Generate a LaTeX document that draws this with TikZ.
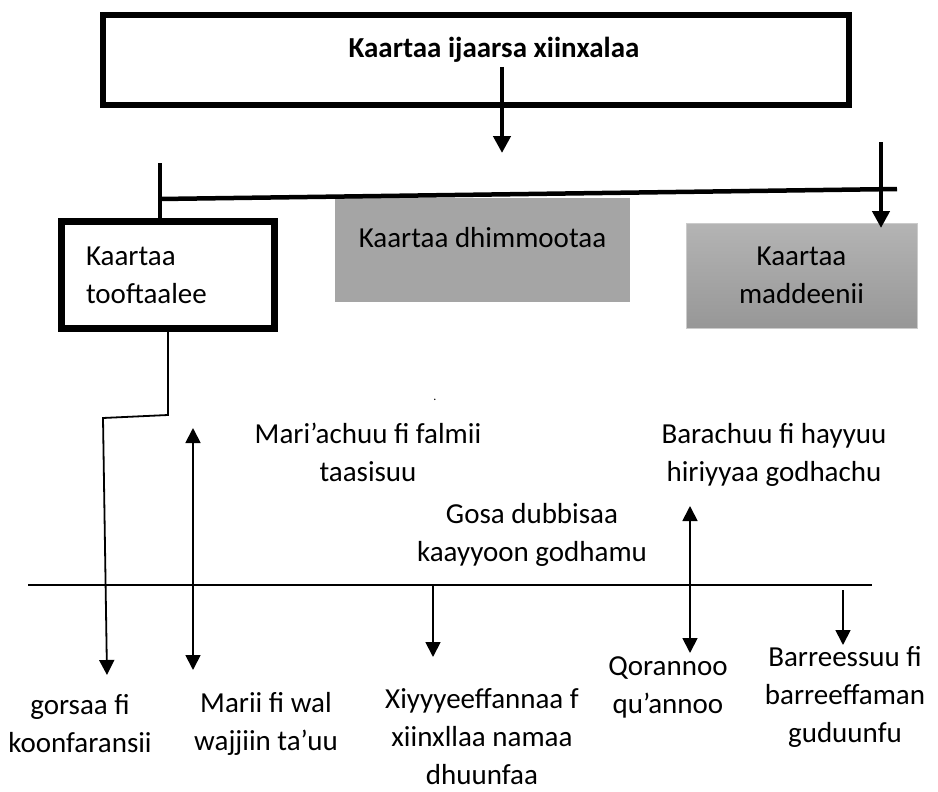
\documentclass[tikz,border=0pt]{standalone}
\usepackage{fontspec}
\setmainfont{Carlito}
\usetikzlibrary{arrows.meta,positioning}

\definecolor{boxgrey}{HTML}{A5A5A5}
\definecolor{shadetop}{HTML}{B4B4B4}
\definecolor{shadebot}{HTML}{979797}

\tikzset{
  txt/.style={font=\fontsize{29}{38}\selectfont, align=center, inner sep=0pt},
  bigarrow/.style={line width=4.5pt, -{Triangle[width=17pt,length=17pt]}},
  smallarrow/.style={line width=1.8pt, -{Triangle[width=15pt,length=15pt]}},
  twoway/.style={line width=1.8pt, {Triangle[width=15pt,length=15pt]}-{Triangle[width=15pt,length=15pt]}},
  bar/.style={line width=4.5pt}
}

\begin{document}
\begin{tikzpicture}[x=1pt,y=-1pt]
\useasboundingbox (0,0) rectangle (938,792);

\node[draw, line width=6pt, minimum width=746pt, minimum height=90pt, inner sep=0pt] (map) at (476,60) {};
\node[txt, font=\bfseries\fontsize{29}{38}\selectfont] (title) at (494,50) {Kaartaa ijaarsa xiinxalaa};

\node[draw, line width=7pt, minimum width=213pt, minimum height=107pt, txt, align=left, text width=164pt] (tof) at (168,275) {Kaartaa\\tooftaalee};
\node[fill=boxgrey, minimum width=295pt, minimum height=104pt, txt, text height=19pt, text depth=25pt] (dhim) at (482.5,250) {Kaartaa dhimmootaa};
\node[top color=shadetop, bottom color=shadebot, draw=shadetop!70!white, line width=0.6pt, minimum width=231pt, minimum height=105pt, txt] (madd) at (801.5,275.5) {Kaartaa\\maddeenii};

\node[txt] (falmii) at (368,452) {Mari’achuu fi falmii\\taasisuu};
\node[txt, font=\fontsize{12}{12}\selectfont] (dot) at (435,400) {.};
\node[txt] (hayyuu) at (774,455) {Barachuu fi hayyuu\\hiriyyaa godhachu};
\node[txt] (gosa) at (532,535) {Gosa dubbisaa\\kaayyoon godhamu};

\node[txt] (gorsaa) at (80,724) {gorsaa fi\\koonfaransii};
\node[txt] (marii) at (266,724) {Marii fi wal\\wajjiin ta’uu};
\node[txt] (xiyyee) at (482,737) {Xiyyyeeffannaa f\\xiinxllaa namaa\\dhuunfaa};
\node[txt] (qoran) at (668,687) {Qorannoo\\qu’annoo};
\node[txt] (barrees) at (845,697) {Barreessuu fi\\barreeffaman\\guduunfu};

\coordinate (mapout) at (502,67);
\coordinate (mapin) at (502,153);
\coordinate (stub) at (160,163);
\coordinate (barl) at (160,199);
\coordinate (barr) at (897,189);
\coordinate (rtop) at (881,142);
\coordinate (rtip) at (881,228);

\coordinate (bend1) at (168,415);
\coordinate (bend2) at (103,418);
\coordinate (gtip) at (107,675);
\coordinate (mtop) at (193,428);
\coordinate (mtip) at (193,670);
\coordinate (hl) at (28,585);
\coordinate (hr) at (872,585);
\coordinate (xtop) at (433,585);
\coordinate (xtip) at (433,657);
\coordinate (qtop) at (690,506);
\coordinate (qtip) at (690,653);
\coordinate (btop) at (843,590);
\coordinate (btip) at (843,645);

\draw[bigarrow] (mapout) -- (mapin);
\draw[bar] (stub) -- (stub |- tof.north);
\draw[bar] (barl) -- (barr);
\draw[bigarrow] (rtop) -- (rtip);

\draw[smallarrow] (tof.south) -- (bend1) -- (bend2) -- (gtip);
\draw[twoway] (mtop) -- (mtip);
\draw[line width=1.8pt] (hl) -- (hr);
\draw[smallarrow] (xtop) -- (xtip);
\draw[twoway] (qtop) -- (qtip);
\draw[smallarrow] (btop) -- (btip);

\end{tikzpicture}
\end{document}
